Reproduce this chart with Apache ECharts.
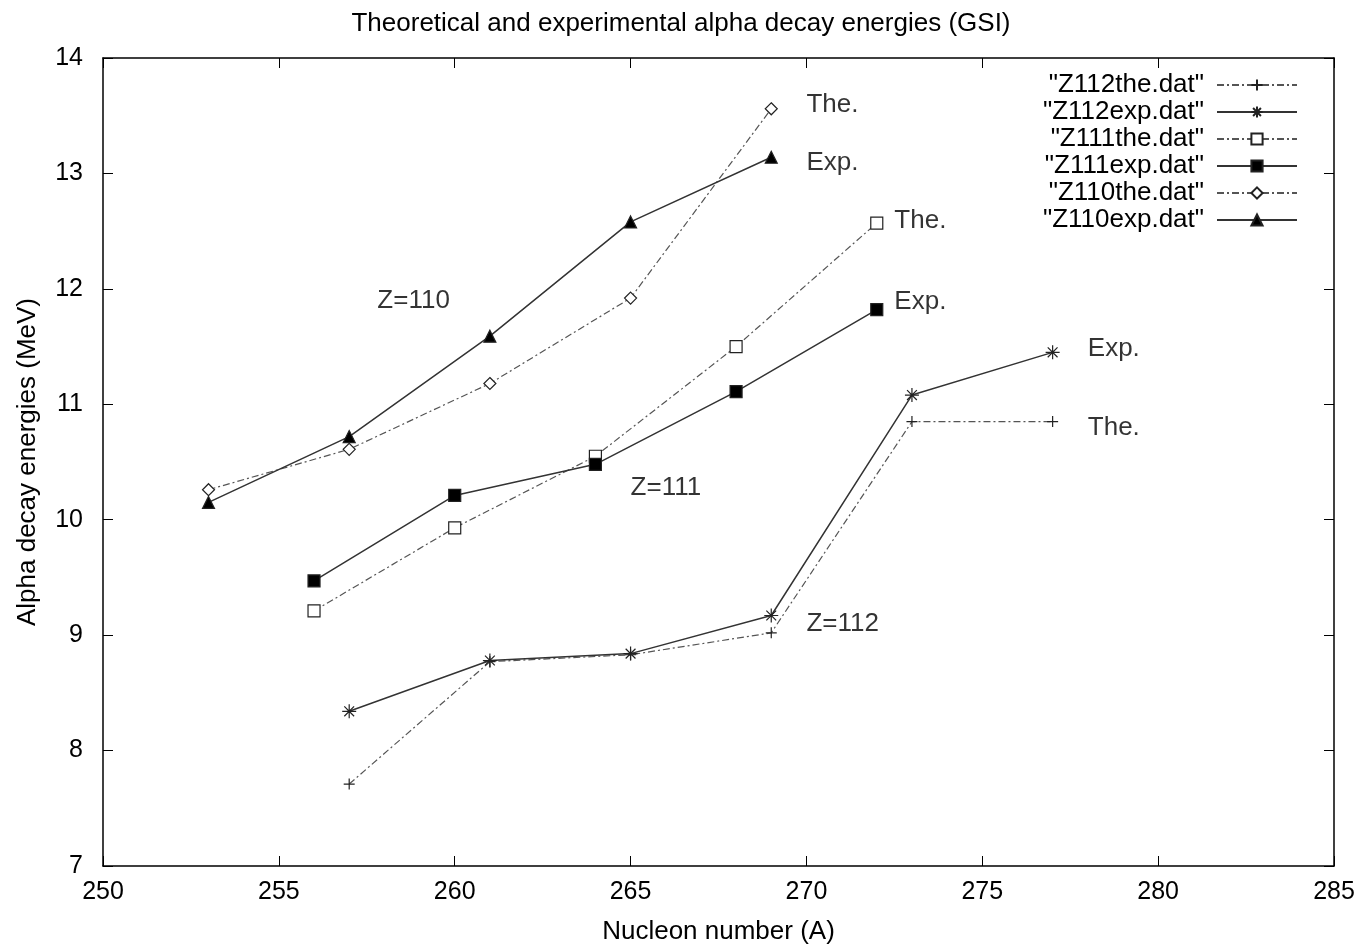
<!DOCTYPE html>
<html>
<head>
<meta charset="utf-8">
<script src="https://cdn.jsdelivr.net/npm/echarts@6/dist/echarts.min.js"></script>
<style>html,body{margin:0;padding:0;background:#fff} #chart{width:1362px;height:949px}</style>
</head>
<body>
<div id="chart"></div>
<script>
// nucleon numbers and alpha decay energies (MeV)
var z112A = [257, 261, 265, 269, 273, 277];
var z112The = [7.71, 8.77, 8.83, 9.02, 10.85, 10.85];
var z112Exp = [8.34, 8.78, 8.84, 9.17, 11.08, 11.45];
var z111A = [256, 260, 264, 268, 272];
var z111The = [9.21, 9.93, 10.55, 11.50, 12.57];
var z111Exp = [9.47, 10.21, 10.48, 11.11, 11.82];
var z110A = [253, 257, 261, 265, 269];
var z110The = [10.26, 10.61, 11.18, 11.92, 13.56];
var z110Exp = [10.15, 10.72, 11.59, 12.58, 13.14];

// text notes placed in data coordinates
var noteText = ['The.', 'Exp.', 'The.', 'Exp.', 'Exp.', 'The.', 'Z=110', 'Z=111', 'Z=112'];
var noteA = [270, 270, 272.5, 272.5, 278, 278, 257.8, 265, 270];
var noteE = [13.59, 13.09, 12.59, 11.89, 11.48, 10.80, 11.90, 10.28, 9.10];

var FONT = 'Liberation Sans';
var dashDot = [7, 3, 2, 3];

var plusPath = 'path://M0,5L10,5M5,0L5,10';
var starPath = 'path://M0,5L10,5M5,0L5,10M1.5,1.5L8.5,8.5M1.5,8.5L8.5,1.5';

function pairs(xs, ys) {
	var out = [];
	for (var i = 0; i < xs.length; i++) {
		out.push([xs[i], ys[i]]);
	}
	return out;
}

function makeSeries(name, xs, ys, theo, symbol, size, fill) {
	return {
		name: name,
		type: 'line',
		data: pairs(xs, ys),
		symbol: symbol,
		symbolSize: size,
		showAllSymbol: true,
		z: theo ? 2 : 3,
		lineStyle: {
			color: theo ? '#555' : '#333',
			width: theo ? 1.2 : 1.5,
			type: theo ? dashDot : 'solid'
		},
		itemStyle: {
			color: fill,
			borderColor: '#222',
			borderWidth: 1.2
		},
		emphasis: { disabled: true }
	};
}

var notes = [];
for (var i = 0; i < noteText.length; i++) {
	notes.push({ value: [noteA[i], noteE[i]], name: noteText[i] });
}

var chart = echarts.init(document.getElementById('chart'));

var option = {
	animation: false,
	backgroundColor: '#fff',
	title: {
		text: 'Theoretical and experimental alpha decay energies (GSI)',
		left: 'center',
		top: 6,
		textStyle: { fontFamily: FONT, fontSize: 26, fontWeight: 'normal', color: '#000' }
	},
	grid: { left: 103, right: 28, top: 58, bottom: 83, outerBoundsMode: 'none' },
	legend: {
		orient: 'vertical',
		right: 59,
		top: 67,
		align: 'right',
		itemWidth: 80,
		itemHeight: 14,
		itemGap: 1,
		selectedMode: false,
		data: ['"Z112the.dat"', '"Z112exp.dat"', '"Z111the.dat"', '"Z111exp.dat"', '"Z110the.dat"', '"Z110exp.dat"'],
		formatter: function (name) { return '{t|' + name + '}'; },
		textStyle: {
			rich: {
				t: { width: 220, align: 'right', fontFamily: FONT, fontSize: 26, color: '#000', padding: [0, 8, 0, 0] }
			}
		}
	},
	xAxis: [{
		type: 'value',
		min: 250, max: 285, interval: 5,
		name: 'Nucleon number (A)',
		nameLocation: 'middle',
		nameGap: 53,
		nameTextStyle: { fontFamily: FONT, fontSize: 26, color: '#000' },
		axisLine: { lineStyle: { color: '#000', width: 1.5 } },
		axisTick: { inside: true, length: 10, lineStyle: { color: '#000' } },
		axisLabel: { fontFamily: FONT, fontSize: 25, color: '#000', margin: 14 },
		splitLine: { show: false }
	}, {
		type: 'value',
		position: 'top',
		min: 250, max: 285, interval: 5,
		axisLine: { lineStyle: { color: '#000', width: 1.5 } },
		axisTick: { inside: true, length: 10, lineStyle: { color: '#000' } },
		axisLabel: { show: false },
		splitLine: { show: false }
	}],
	yAxis: [{
		type: 'value',
		min: 7, max: 14, interval: 1,
		name: 'Alpha decay energies (MeV)',
		nameLocation: 'middle',
		nameGap: 62,
		nameTextStyle: { fontFamily: FONT, fontSize: 26, color: '#000' },
		axisLine: { show: true, lineStyle: { color: '#000', width: 1.5 } },
		axisTick: { show: true, inside: true, length: 10, lineStyle: { color: '#000' } },
		axisLabel: { fontFamily: FONT, fontSize: 25, color: '#000', margin: 20 },
		splitLine: { show: false }
	}, {
		type: 'value',
		position: 'right',
		min: 7, max: 14, interval: 1,
		axisLine: { show: true, lineStyle: { color: '#000', width: 1.5 } },
		axisTick: { show: true, inside: true, length: 10, lineStyle: { color: '#000' } },
		axisLabel: { show: false },
		splitLine: { show: false }
	}],
	series: [
		makeSeries('"Z112the.dat"', z112A, z112The, true, plusPath, 11, 'rgba(0,0,0,0)'),
		makeSeries('"Z112exp.dat"', z112A, z112Exp, false, starPath, 14, 'rgba(0,0,0,0)'),
		makeSeries('"Z111the.dat"', z111A, z111The, true, 'rect', 12, '#fff'),
		makeSeries('"Z111exp.dat"', z111A, z111Exp, false, 'rect', 12, '#000'),
		makeSeries('"Z110the.dat"', z110A, z110The, true, 'diamond', 12, '#fff'),
		makeSeries('"Z110exp.dat"', z110A, z110Exp, false, 'triangle', 12, '#000'),
		{
			name: 'notes',
			type: 'scatter',
			data: notes,
			symbolSize: 1,
			itemStyle: { color: 'rgba(0,0,0,0)' },
			silent: true,
			label: {
				show: true,
				position: 'inside',
				align: 'left',
				verticalAlign: 'middle',
				formatter: '{b}',
				fontFamily: FONT,
				fontSize: 26,
				color: '#000'
			}
		}
	]
};

chart.setOption(option);
</script>
</body>
</html>
